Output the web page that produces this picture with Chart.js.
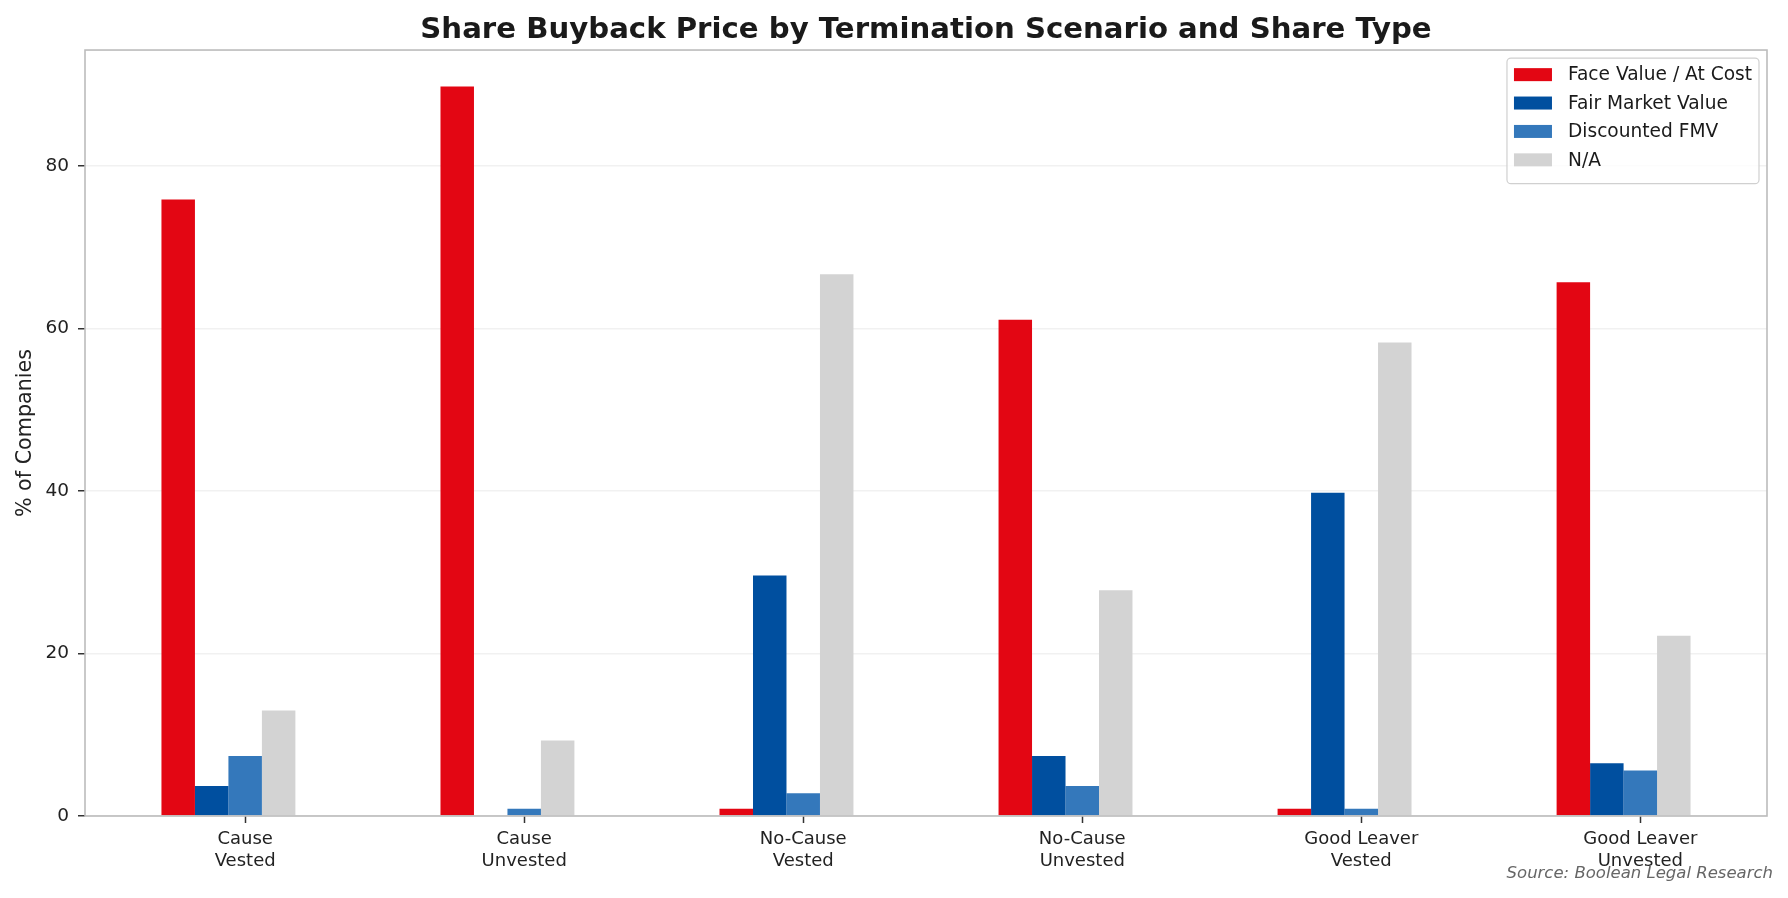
<!DOCTYPE html>
<html>
<head>
<meta charset="utf-8">
<title>Share Buyback Price by Termination Scenario and Share Type</title>
<script src="https://cdn.jsdelivr.net/npm/chart.js@4/dist/chart.umd.min.js"></script>
<style>
  html, body { margin: 0; padding: 0; background: #fff; }
  #wrap { width: 1788px; height: 898px; }
</style>
</head>
<body>
<div id="wrap"><canvas id="buybackChart" width="1788" height="898"></canvas></div>
<script>
// scenarios (two-line tick labels)
const scenarios = [
  ["Cause", "Vested"],
  ["Cause", "Unvested"],
  ["No-Cause", "Vested"],
  ["No-Cause", "Unvested"],
  ["Good Leaver", "Vested"],
  ["Good Leaver", "Unvested"]
];

// % of companies per buyback price type
const faceValue = [75.9, 89.8, 0.9, 61.1, 0.9, 65.7];
const fairMarket = [3.7, 0, 29.6, 7.4, 39.8, 6.5];
const discountedFmv = [7.4, 0.9, 2.8, 3.7, 0.9, 5.6];
const notApplicable = [13.0, 9.3, 66.7, 27.8, 58.3, 22.2];

const seriesNames = ["Face Value / At Cost", "Fair Market Value", "Discounted FMV", "N/A"];
const seriesColors = ["#e30613", "#004f9f", "#3478bb", "#d3d3d3"];
const yTicks = [0, 20, 40, 60, 80];

const FONT = "'DejaVu Sans', 'Noto Sans', sans-serif";

function toPoints(values) {
  return values.map((v, i) => ({ x: i, y: v }));
}

const allSeries = [faceValue, fairMarket, discountedFmv, notApplicable];
const datasets = allSeries.map((vals, k) => ({
  label: seriesNames[k],
  data: toPoints(vals),
  backgroundColor: seriesColors[k],
  borderWidth: 0
}));
// empty slot so the group sits like the original (tick under the 3rd bar)
datasets.push({ label: "_spacer", data: [], backgroundColor: "rgba(0,0,0,0)" });

// frame, legend box and source note
const decorations = {
  id: "decorations",
  afterDraw(chart) {
    const ctx = chart.ctx;
    const a = chart.chartArea;
    ctx.save();

    // axes frame
    ctx.strokeStyle = "#bcbcbc";
    ctx.lineWidth = 1.6;
    ctx.strokeRect(a.left, a.top, a.right - a.left, a.bottom - a.top);

    // legend
    ctx.font = "18.6px " + FONT;
    const items = chart.data.datasets.filter(d => d.label !== "_spacer");
    let maxW = 0;
    items.forEach(d => { maxW = Math.max(maxW, ctx.measureText(d.label).width); });
    const boxW = 68 + maxW;
    const rowH = 28.4;
    const boxH = 7 + rowH * items.length + 5;
    const bx = a.right - 8 - boxW;
    const by = a.top + 8;
    ctx.beginPath();
    ctx.roundRect(bx, by, boxW, boxH, 4);
    ctx.fillStyle = "rgba(255,255,255,0.85)";
    ctx.fill();
    ctx.strokeStyle = "#d0d0d0";
    ctx.lineWidth = 1.2;
    ctx.stroke();
    ctx.textBaseline = "middle";
    ctx.textAlign = "left";
    items.forEach((d, i) => {
      const cy = by + 16.6 + i * rowH;
      ctx.fillStyle = d.backgroundColor;
      ctx.fillRect(bx + 7, cy - 6.5, 38, 13);
      ctx.fillStyle = "#1a1a1a";
      ctx.fillText(d.label, bx + 61, cy + 1);
    });

    // source
    ctx.font = "italic 16.5px " + FONT;
    ctx.fillStyle = "#666666";
    ctx.textAlign = "right";
    ctx.textBaseline = "alphabetic";
    ctx.fillText("Source: Boolean Legal Research", chart.width - 15, 878);
    ctx.restore();
  }
};

new Chart(document.getElementById("buybackChart"), {
  type: "bar",
  data: { datasets: datasets },
  options: {
    responsive: false,
    animation: false,
    categoryPercentage: 0.6,
    barPercentage: 1.0,
    layout: { padding: { left: 0, right: 21, top: 0, bottom: 0 } },
    plugins: {
      legend: { display: false },
      tooltip: { enabled: false },
      title: {
        display: true,
        fullSize: false,
        text: "Share Buyback Price by Termination Scenario and Share Type",
        color: "#1a1a1a",
        font: { family: FONT, size: 29.2, weight: "bold", lineHeight: 1.2 },
        padding: { top: 12.8, bottom: 2.2 }
      }
    },
    scales: {
      x: {
        type: "linear",
        min: -0.574,
        max: 5.454,
        offset: false,
        afterBuildTicks(scale) {
          scale.ticks = scenarios.map((_, i) => ({ value: i }));
        },
        afterFit(scale) { scale.height = 82; },
        ticks: {
          autoSkip: false,
          maxRotation: 0,
          padding: 5.5,
          color: "#222",
          font: { family: FONT, size: 18, lineHeight: 1.2 },
          callback: (value) => scenarios[value]
        },
        grid: {
          offset: false,
          drawOnChartArea: false,
          drawTicks: true,
          tickLength: 7,
          tickColor: "#333",
          tickWidth: 1.5
        },
        border: { display: false }
      },
      y: {
        min: 0,
        max: 94.3,
        z: 1,
        afterBuildTicks(scale) {
          scale.ticks = yTicks.map(v => ({ value: v }));
        },
        afterFit(scale) { scale.width = 85; },
        ticks: {
          padding: 9,
          color: "#222",
          font: { family: FONT, size: 18.5 }
        },
        grid: {
          color: "rgba(176,176,176,0.18)",
          lineWidth: 1.5,
          tickLength: 7,
          tickColor: "#333",
          tickWidth: 1.5
        },
        border: { display: false },
        title: {
          display: true,
          text: "% of Companies",
          color: "#222",
          font: { family: FONT, size: 20.7, lineHeight: 1 },
          padding: { top: 15, bottom: 0 }
        }
      }
    }
  },
  plugins: [decorations]
});
</script>
</body>
</html>
